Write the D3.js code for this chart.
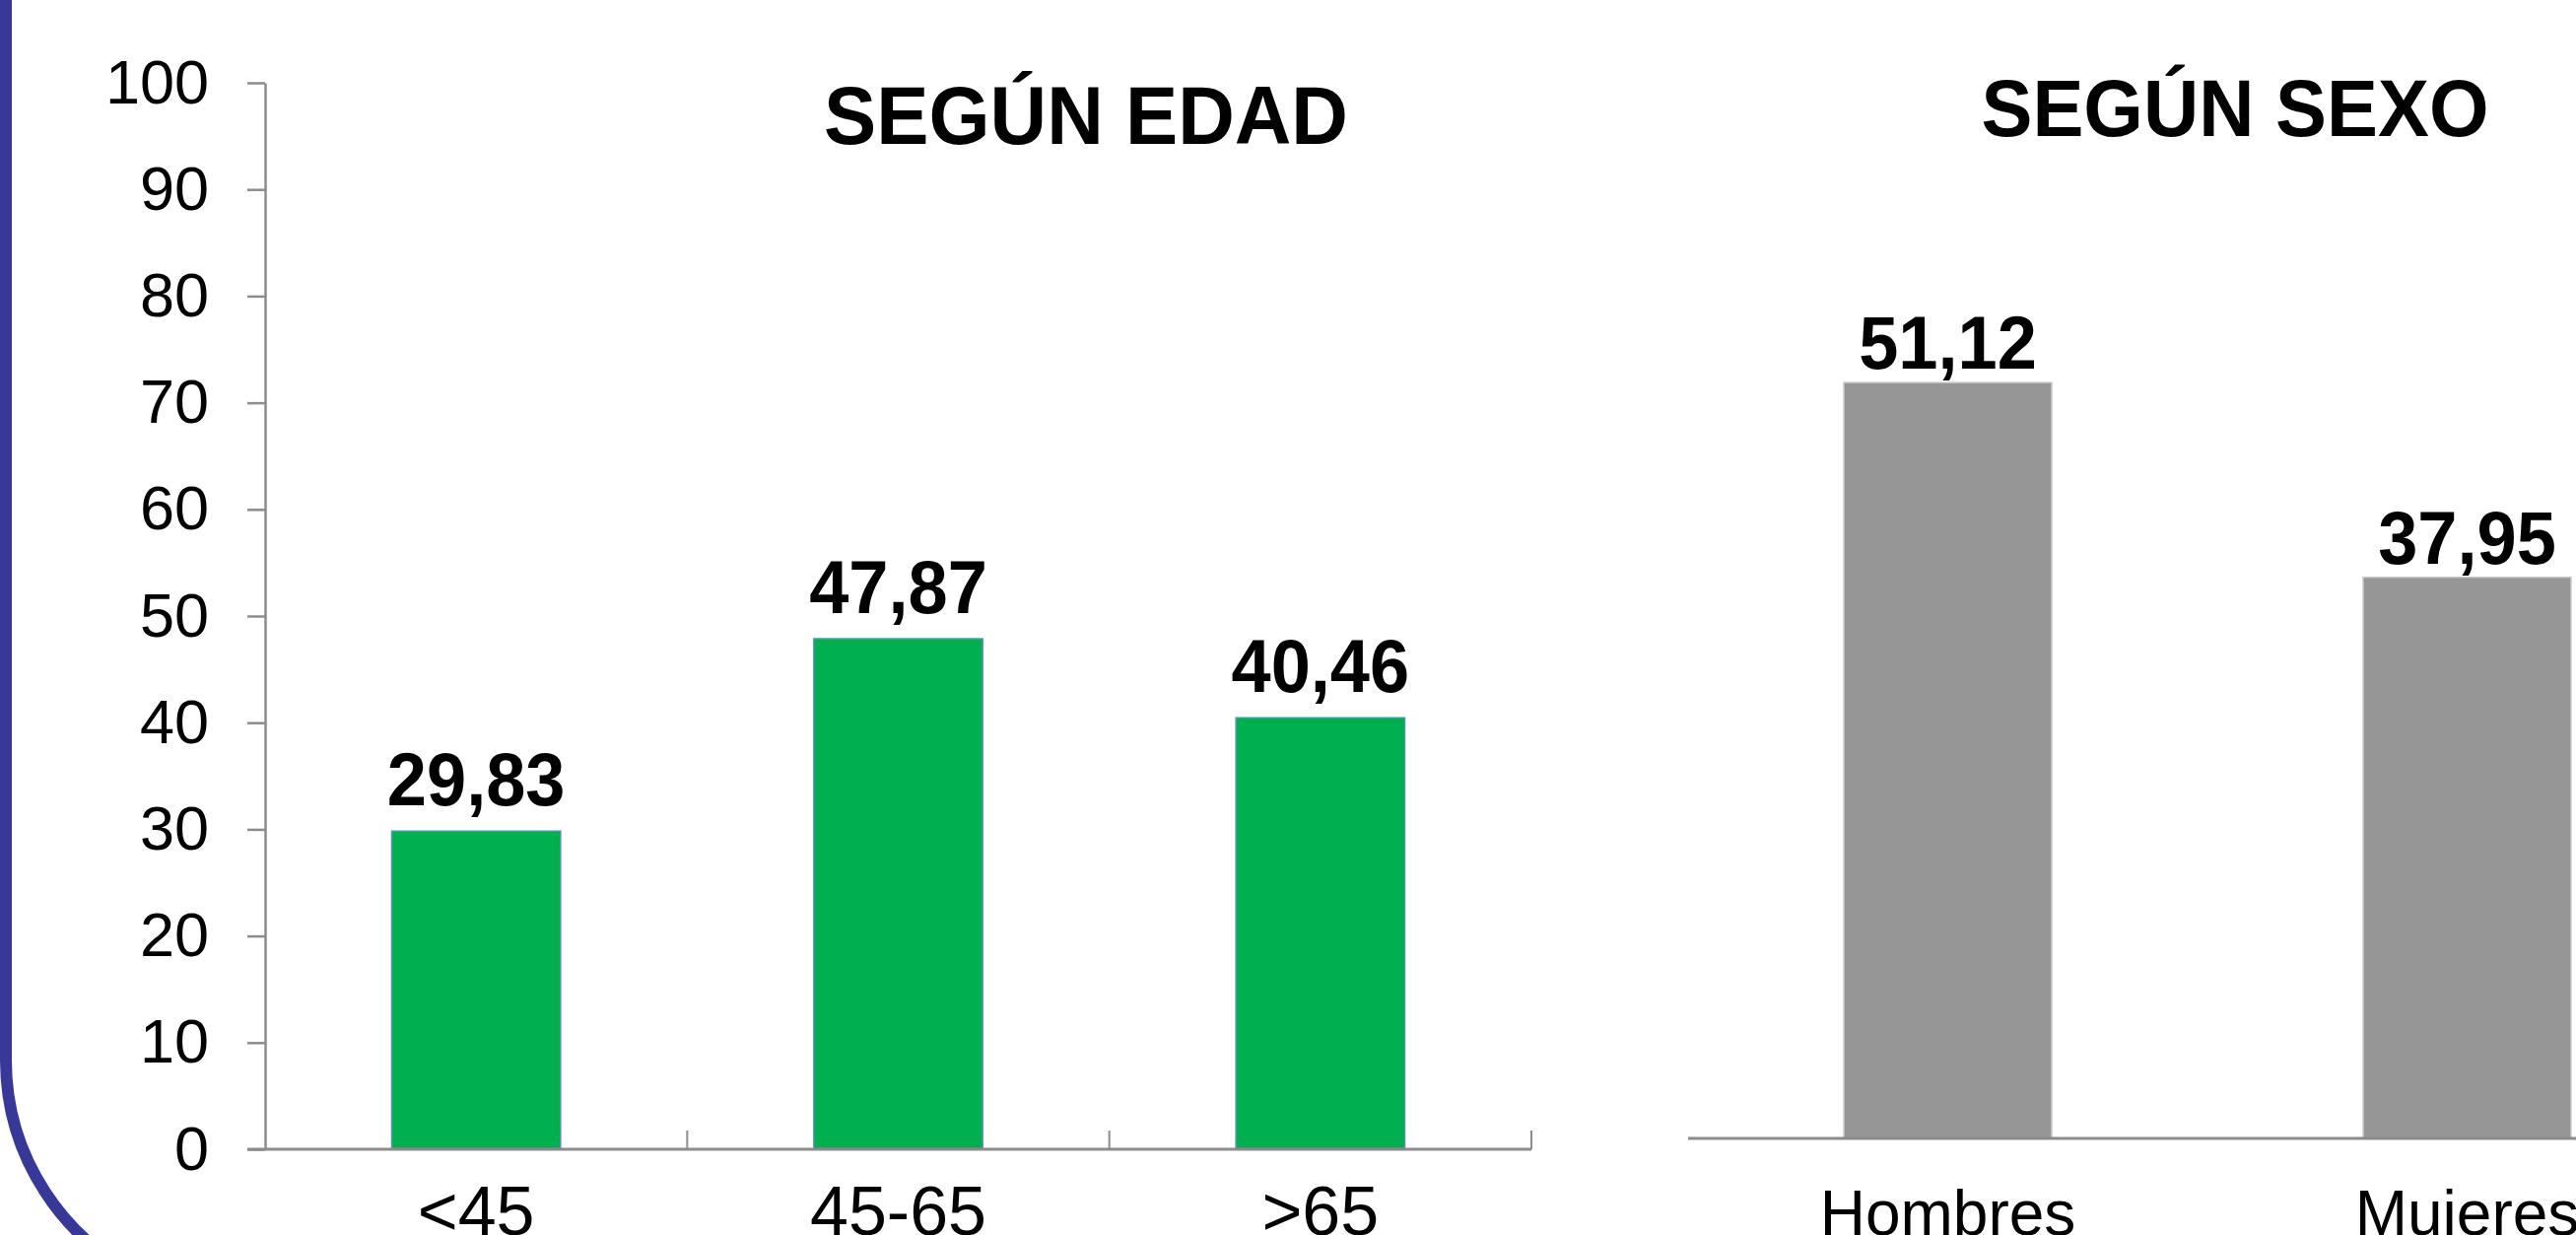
<!DOCTYPE html>
<html>
<head>
<meta charset="utf-8">
<script src="https://cdn.jsdelivr.net/npm/d3@7"></script>
<style>
  body { margin: 0; background: #fff; }
  svg { display: block; font-family: "Liberation Sans", Arial, sans-serif; }
</style>
</head>
<body>
<div id="chart"></div>
<script>
// data
var edadCats = ["<45", "45-65", ">65"];
var edadVals = [29.83, 47.87, 40.46];
var sexoCats = ["Hombres", "Mujeres"];
var sexoVals = [51.12, 37.95];
var yTicks = [0, 10, 20, 30, 40, 50, 60, 70, 80, 90, 100];
var edadTitle = "SEGÚN EDAD";
var sexoTitle = "SEGÚN SEXO";

var W = 2614, H = 1253;
var fmt = d3.formatLocale({decimal: ",", thousands: ".", grouping: [3], currency: ["", ""]}).format(".2f");

var svg = d3.select("#chart").append("svg")
  .attr("width", W).attr("height", H);

svg.append("rect").attr("width", W).attr("height", H).attr("fill", "#fff");

// blue frame on the left with rounded corner
svg.append("path")
  .attr("d", "M6,-10 V1075 A245,245 0 0,0 153,1300")
  .attr("fill", "none")
  .attr("stroke", "#383898")
  .attr("stroke-width", 12);

// ---------- left chart: según edad ----------
var x1 = d3.scaleBand().domain(edadCats).range([269, 1554])
  .paddingInner(0.6).paddingOuter(0.3);
var y1 = d3.scaleLinear().domain([0, 100]).range([1166, 84]);

var left = svg.append("g");

left.selectAll("rect.bar")
  .data(edadVals)
  .join("rect")
    .attr("class", "bar")
    .attr("x", (d, i) => x1(edadCats[i]))
    .attr("width", x1.bandwidth())
    .attr("y", d => y1(d))
    .attr("height", d => y1(0) - y1(d))
    .attr("fill", "#00B050")
    .attr("stroke", "#5a8fb0")
    .attr("stroke-width", 1.5);

var yAxis = left.append("g")
  .attr("transform", "translate(269,0)")
  .call(d3.axisLeft(y1).tickValues(yTicks).tickSize(18).tickSizeOuter(0).tickPadding(39));
yAxis.select(".domain").attr("stroke", "#8c8c8c").attr("stroke-width", 2.5);
yAxis.selectAll(".tick line").attr("stroke", "#8c8c8c").attr("stroke-width", 2.5);
yAxis.selectAll(".tick text").attr("fill", "#000").style("font-size", "63px")
  .style("font-family", "'Liberation Sans', Arial, sans-serif");

// x baseline and category separators
left.append("line")
  .attr("x1", 251).attr("x2", x1.range()[1])
  .attr("y1", y1(0)).attr("y2", y1(0))
  .attr("stroke", "#8c8c8c").attr("stroke-width", 3);

left.selectAll("line.sep")
  .data(edadCats)
  .join("line")
    .attr("class", "sep")
    .attr("x1", d => x1(d) + x1.bandwidth() / 2 + x1.step() / 2)
    .attr("x2", d => x1(d) + x1.bandwidth() / 2 + x1.step() / 2)
    .attr("y1", y1(0)).attr("y2", y1(0) - 19)
    .attr("stroke", "#8c8c8c").attr("stroke-width", 2);

var xAxis1 = left.append("g")
  .attr("transform", `translate(0,${y1(0)})`)
  .call(d3.axisBottom(x1).tickSize(0).tickPadding(37));
xAxis1.select(".domain").remove();
xAxis1.selectAll(".tick text").attr("fill", "#000").style("font-size", "70px")
  .style("font-family", "'Liberation Sans', Arial, sans-serif");

left.selectAll("text.val")
  .data(edadVals)
  .join("text")
    .attr("class", "val")
    .attr("transform", (d, i) => `translate(${x1(edadCats[i]) + x1.bandwidth() / 2},${y1(d) - 26}) scale(0.95,1)`)
    .attr("text-anchor", "middle")
    .style("font-size", "76px")
    .style("font-weight", "bold")
    .text(d => fmt(d));

left.append("text")
  .attr("transform", "translate(1102,146) scale(0.95,1)")
  .attr("text-anchor", "middle")
  .style("font-size", "84px")
  .style("font-weight", "bold")
  .text(edadTitle);

// ---------- right chart: según sexo ----------
var x2 = d3.scaleBand().domain(sexoCats).range([1713, 2767])
  .paddingInner(0.6).paddingOuter(0.3);
var y2 = d3.scaleLinear().domain([0, 70]).range([1155, 105]);

var right = svg.append("g");

right.selectAll("rect.bar")
  .data(sexoVals)
  .join("rect")
    .attr("class", "bar")
    .attr("x", (d, i) => x2(sexoCats[i]))
    .attr("width", x2.bandwidth())
    .attr("y", d => y2(d))
    .attr("height", d => y2(0) - y2(d))
    .attr("fill", "#969696")
    .attr("stroke", "#c4c4c4")
    .attr("stroke-width", 1.5);

right.append("line")
  .attr("x1", 1713).attr("x2", W)
  .attr("y1", y2(0)).attr("y2", y2(0))
  .attr("stroke", "#8c8c8c").attr("stroke-width", 3);

var xAxis2 = right.append("g")
  .attr("transform", `translate(0,${y2(0)})`)
  .call(d3.axisBottom(x2).tickSize(0).tickPadding(53));
xAxis2.select(".domain").remove();
xAxis2.selectAll(".tick text").attr("fill", "#000").style("font-size", "64px")
  .style("font-family", "'Liberation Sans', Arial, sans-serif");

right.selectAll("text.val")
  .data(sexoVals)
  .join("text")
    .attr("class", "val")
    .attr("transform", (d, i) => `translate(${x2(sexoCats[i]) + x2.bandwidth() / 2},${y2(d) - 14}) scale(0.95,1)`)
    .attr("text-anchor", "middle")
    .style("font-size", "76px")
    .style("font-weight", "bold")
    .text(d => fmt(d));

right.append("text")
  .attr("transform", "translate(2268,138) scale(0.95,1)")
  .attr("text-anchor", "middle")
  .style("font-size", "82px")
  .style("font-weight", "bold")
  .text(sexoTitle);
</script>
</body>
</html>
